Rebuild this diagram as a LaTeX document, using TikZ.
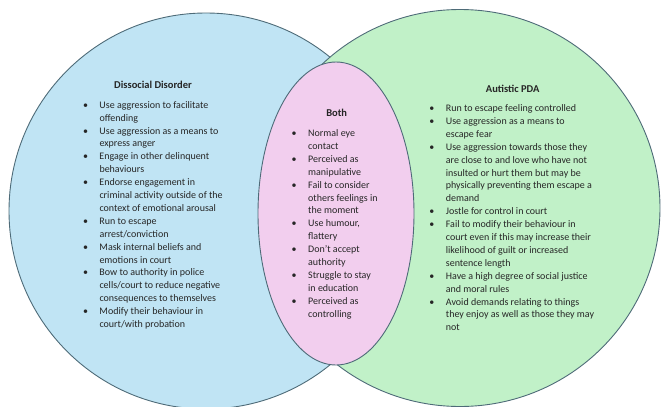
\documentclass[tikz,border=0pt]{standalone}
\usepackage{fontspec}
\setmainfont{Carlito}
\usetikzlibrary{shapes.geometric}
\definecolor{blueF}{HTML}{C0E4F4}
\definecolor{greenF}{HTML}{C1F1C8}
\definecolor{pinkF}{HTML}{F2CEEE}
\definecolor{edgeC}{HTML}{4E6B78}
\definecolor{txtC}{HTML}{262626}
\newcommand{\vbul}{\makebox[0pt]{\textbullet}\hspace*{14pt}}
\newcommand{\vind}{\hspace*{14pt}}
\begin{document}
\begin{tikzpicture}[x=1pt,y=-1pt,
  venn/.style={ellipse, draw=edgeC, line width=0.9pt, inner sep=0pt},
  ttl/.style={font=\fontsize{10.5}{12}\selectfont\bfseries, anchor=base, inner sep=0pt, text=txtC},
  lst/.style={font=\fontsize{10}{12.9}\selectfont, anchor=base west, inner sep=0pt, text=txtC}]
\useasboundingbox (0,0) rectangle (662,407);
\node[venn, fill=blueF, minimum width=394pt, minimum height=396pt] (dissocial) at (206,211) {};
\node[venn, fill=greenF, minimum width=400pt, minimum height=397pt] (pda) at (460,208) {};
\node[venn, fill=pinkF, minimum width=156pt, minimum height=303pt] (both) at (336,213.5) {};

\node[ttl] (t1) at (153,88.5) {Dissocial Disorder};
\node[ttl] (t2) at (336.7,116) {Both};
\node[ttl] (t3) at (512.7,92.4) {Autistic PDA};

\node[lst] (l1) at (85.3,108.2) {\begin{tabular}[t]{@{}l@{}}
\vbul Use aggression to facilitate\\
\vind offending\\
\vbul Use aggression as a means to\\
\vind express anger\\
\vbul Engage in other delinquent\\
\vind behaviours\\
\vbul Endorse engagement in\\
\vind criminal activity outside of the\\
\vind context of emotional arousal\\
\vbul Run to escape\\
\vind arrest/conviction\\
\vbul Mask internal beliefs and\\
\vind emotions in court\\
\vbul Bow to authority in police\\
\vind cells/court to reduce negative\\
\vind consequences to themselves\\
\vbul Modify their behaviour in\\
\vind court/with probation
\end{tabular}};

\node[lst] (l2) at (294,136.5) {\begin{tabular}[t]{@{}l@{}}
\vbul Normal eye\\
\vind contact\\
\vbul Perceived as\\
\vind manipulative\\
\vbul Fail to consider\\
\vind others feelings in\\
\vind the moment\\
\vbul Use humour,\\
\vind flattery\\
\vbul Don’t accept\\
\vind authority\\
\vbul Struggle to stay\\
\vind in education\\
\vbul Perceived as\\
\vind controlling
\end{tabular}};

\node[lst] (l3) at (431.7,111.5) {\begin{tabular}[t]{@{}l@{}}
\vbul Run to escape feeling controlled\\
\vbul Use aggression as a means to\\
\vind escape fear\\
\vbul Use aggression towards those they\\
\vind are close to and love who have not\\
\vind insulted or hurt them but may be\\
\vind physically preventing them escape a\\
\vind demand\\
\vbul Jostle for control in court\\
\vbul Fail to modify their behaviour in\\
\vind court even if this may increase their\\
\vind likelihood of guilt or increased\\
\vind sentence length\\
\vbul Have a high degree of social justice\\
\vind and moral rules\\
\vbul Avoid demands relating to things\\
\vind they enjoy as well as those they may\\
\vind not
\end{tabular}};
\end{tikzpicture}
\end{document}
